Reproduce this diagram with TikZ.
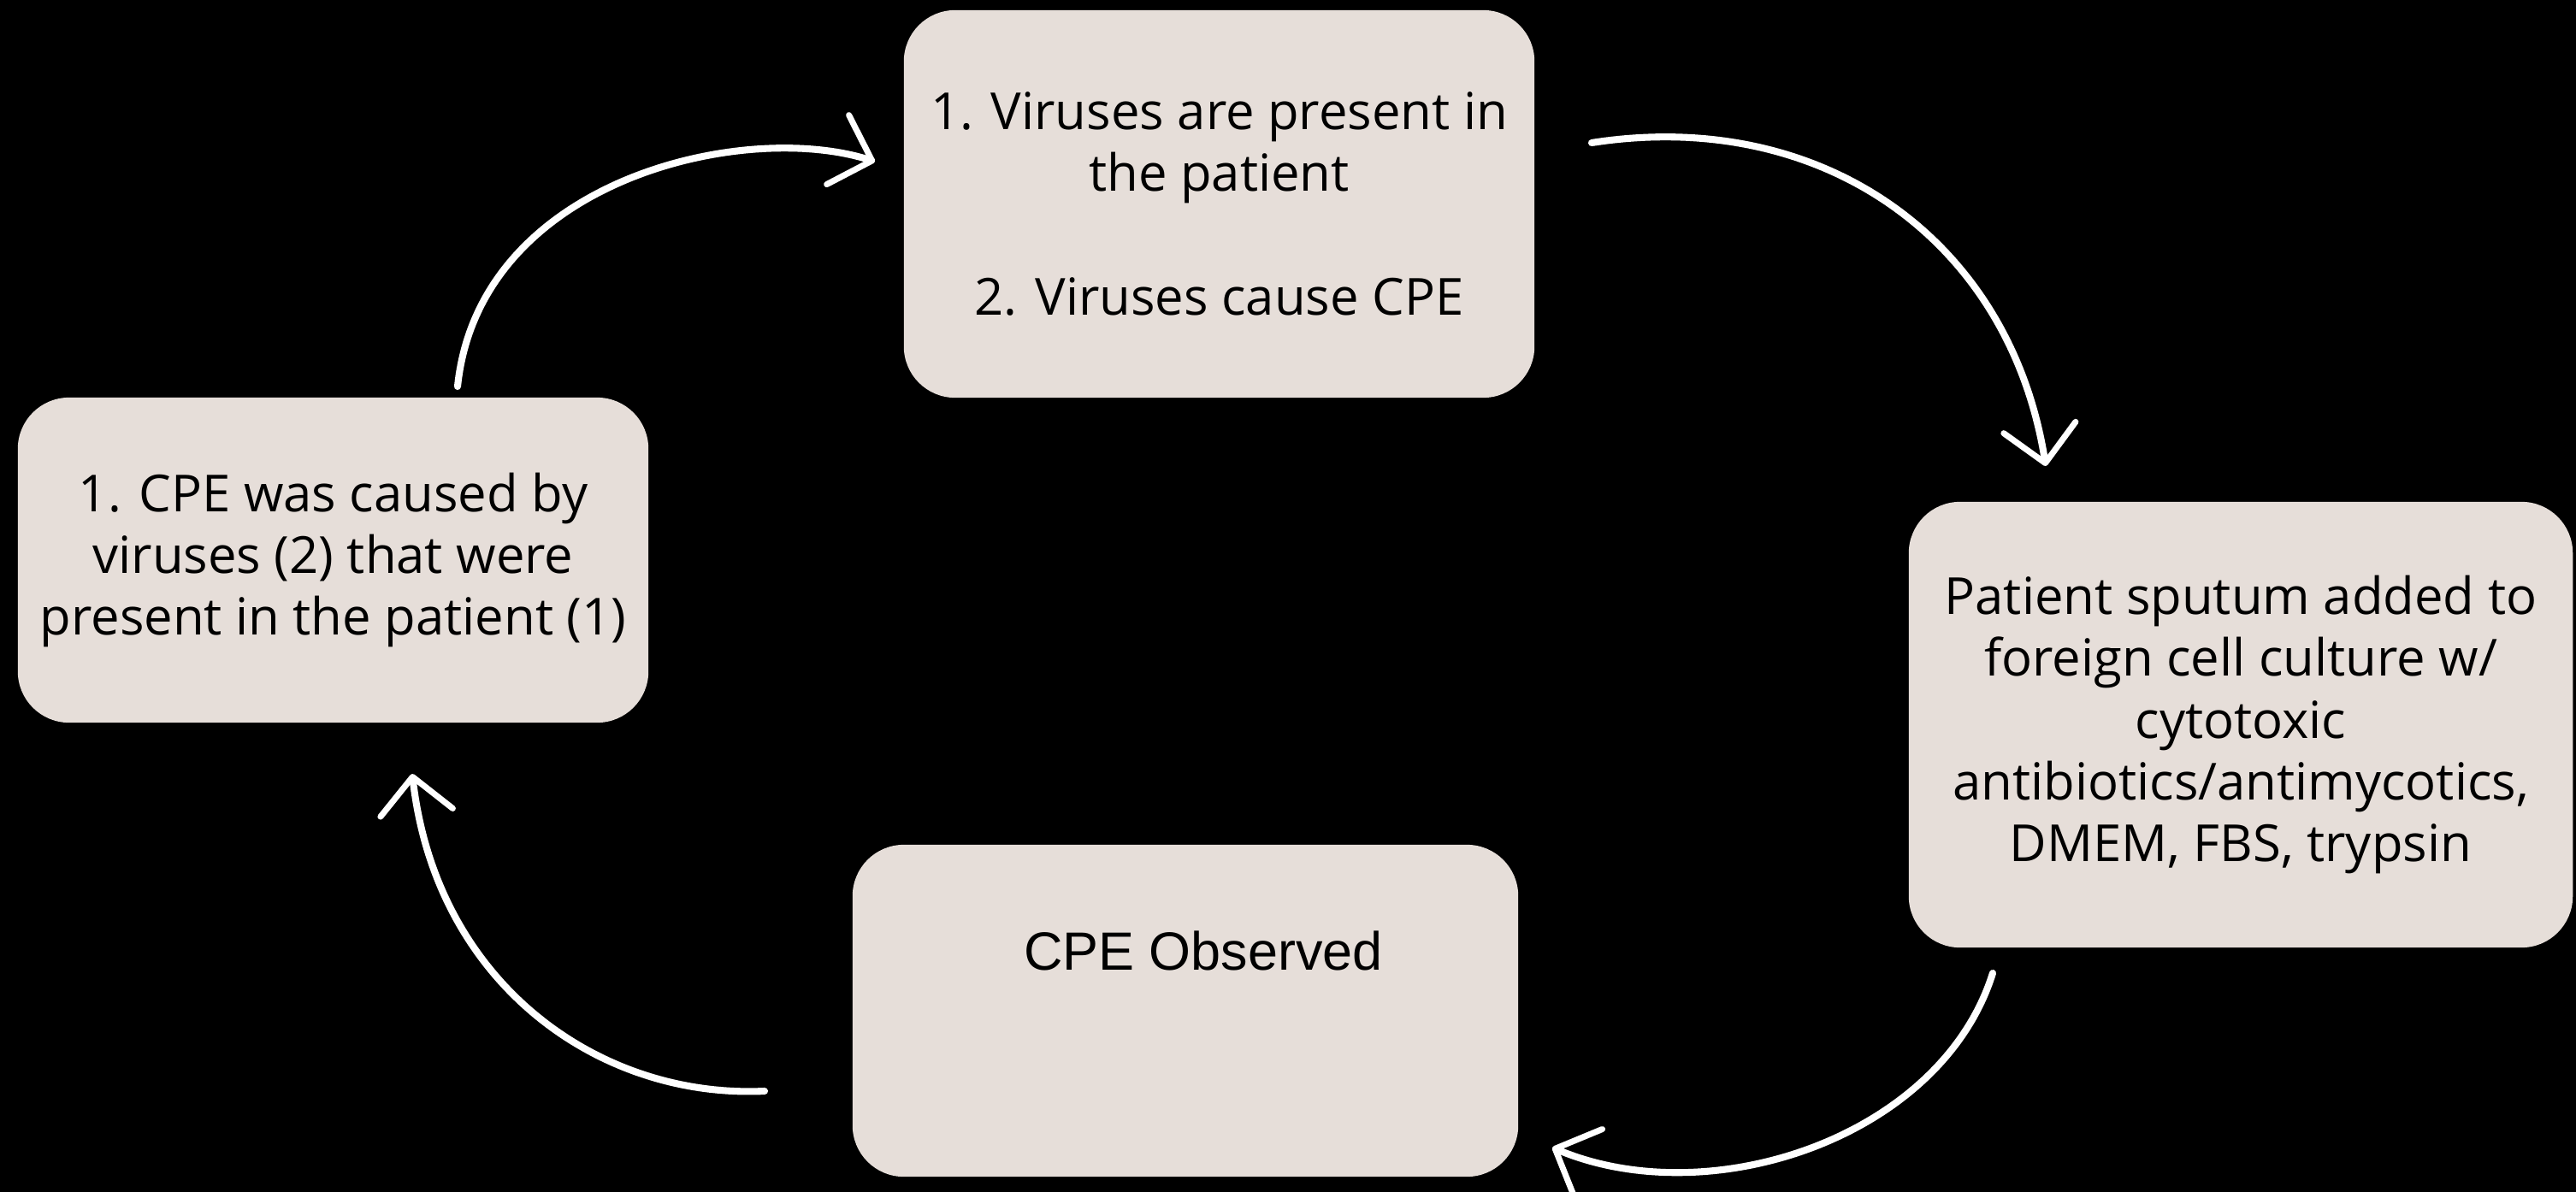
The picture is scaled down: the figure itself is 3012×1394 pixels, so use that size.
\documentclass[tikz,border=0pt]{standalone}
\usepackage{fontspec}
\setmainfont{Open Sans}
\newfontfamily\obsfont{Liberation Sans}
\usetikzlibrary{arrows.meta}
\definecolor{boxfill}{RGB}{230,222,217}
\begin{document}
\begin{tikzpicture}[x=0.01cm,y=-0.01cm,
  stage/.style={fill=boxfill, rounded corners=0.6cm, inner sep=0pt, align=center,
    text=black, font=\fontsize{17pt}{20.5pt}\selectfont},
  flow/.style={white, line width=2.3pt, line cap=round,
    -{Straight Barb[length=4.2mm, width=8.5mm, round, line width=2pt]}}
]
% page and background
\useasboundingbox (0,0) rectangle (3012,1394);
\fill[black] (0,0) rectangle (3012,1394);
\clip (0,0) rectangle (3012,1394);

% the four stages of the cycle
\node[stage, minimum width=7.37cm, minimum height=4.53cm] (hyp) at (1425.5,238.5)
  {1. Viruses are present in\\the patient\\[20.5pt]2. Viruses cause CPE};
\node[stage, minimum width=7.76cm, minimum height=5.21cm] (cult) at (2620,847.5)
  {Patient sputum added to\\foreign cell culture w/\\cytotoxic\\antibiotics/antimycotics,\\DMEM, FBS, trypsin};
\node[stage, minimum width=7.78cm, minimum height=3.88cm] (obs) at (1386,1182) {};
\node[text=black, inner sep=0pt, font=\obsfont\fontsize{17.9pt}{21pt}\selectfont] (obslbl) at (1407,1112) {CPE Observed};
\node[stage, minimum width=7.37cm, minimum height=3.80cm] (concl) at (389.5,655)
  {1. CPE was caused by\\viruses (2) that were\\present in the patient (1)};

% arrow end points around the boxes
\coordinate (a1s) at (535,452);   \coordinate (a1e) at (1023,189);
\coordinate (a2s) at (1861,167);  \coordinate (a2e) at (2392,545);
\coordinate (a3s) at (2330,1138); \coordinate (a3e) at (1815,1342);
\coordinate (a4s) at (894,1276);  \coordinate (a4e) at (482,905);

% curved arrows of the cycle
\draw[flow] (a1s) .. controls (560,210) and (870,140) .. (a1e);
\draw[flow] (a2s) .. controls (2130,125) and (2350,280) .. (a2e);
\draw[flow] (a3s) .. controls (2270,1330) and (2000,1420) .. (a3e);
\draw[flow] (a4s) .. controls (700,1285) and (510,1150) .. (a4e);
\end{tikzpicture}
\end{document}
